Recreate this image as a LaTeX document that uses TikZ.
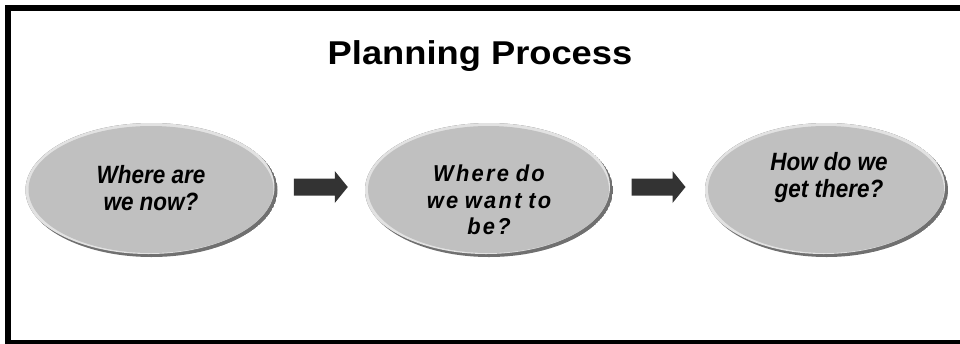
\documentclass[tikz,border=0pt]{standalone}
\usepackage{fontspec}
\setmainfont{Liberation Sans}
\newfontfamily\titlefont[FakeStretch=1.1]{Liberation Sans}
\newfontfamily\bubblefont[FakeStretch=0.9]{Liberation Sans}
\newfontfamily\widefont[LetterSpace=10, WordSpace=0.8, FakeStretch=0.95]{Liberation Sans}
\usetikzlibrary{shapes.geometric, calc}
\definecolor{bubblegray}{RGB}{192,192,192}
\definecolor{rimdark}{RGB}{112,112,112}
\definecolor{rimlight}{RGB}{226,226,226}
\definecolor{arrowgray}{RGB}{51,51,51}

\tikzset{
  bubble/.style={ellipse, fill=bubblegray, inner sep=0pt},
  bubbletext/.style={align=center, inner sep=0pt,
    font=\bubblefont\fontsize{25}{27}\selectfont\bfseries\itshape},
  blockarrow/.style={fill=arrowgray}
}

\begin{document}
\begin{tikzpicture}[x=1pt, y=-1pt]
  \useasboundingbox (0,0) rectangle (960,343);
  \clip (0,0) rectangle (960,343);
  \draw[line width=6pt] (8,8) rectangle (963,343);

  \node[anchor=base, font=\titlefont\fontsize{33}{38}\selectfont\bfseries] (title) at (480,64) {Planning Process};

  % bevelled bubbles: dark rim bottom right, light rim top left
  \foreach \cx/\rx [count=\i] in {151.5/126, 489/124, 826.5/121.5} {
    \begin{scope}
      \clip (\cx,190) ellipse [x radius=\rx, y radius=67];
      \fill[rimdark] (\cx,190) ellipse [x radius=\rx, y radius=67];
      \fill[rimlight] (\cx-3,187) ellipse [x radius=\rx, y radius=67];
    \end{scope}
    \node[bubble, minimum width={2*\rx-7}, minimum height=127] (e\i) at (\cx-0.5,189.5) {};
  }

  \node[bubbletext] (t1) at (151,188) {Where are\\we now?};
  \node[bubbletext, font=\widefont\fontsize{23}{26.5}\selectfont\bfseries\itshape] (t2) at (489,200) {Where do\\we want to\\be?};
  \node[bubbletext] (t3) at (829,178) {How do we\\get there?};

  % block arrows in the gaps between the bubbles
  \foreach \a/\b in {e1/e2, e2/e3} {
    \coordinate (\a-\b) at ($(\a.east)!0.5!(\b.west)+(0,-2.5)$);
    \fill[blockarrow] (\a-\b) ++(-27,-8.5) -- ++(41,0) -- ++(0,-7.5) -- ++(13,16)
      -- ++(-13,16) -- ++(0,-7.5) -- ++(-41,0) -- cycle;
  }
\end{tikzpicture}
\end{document}
